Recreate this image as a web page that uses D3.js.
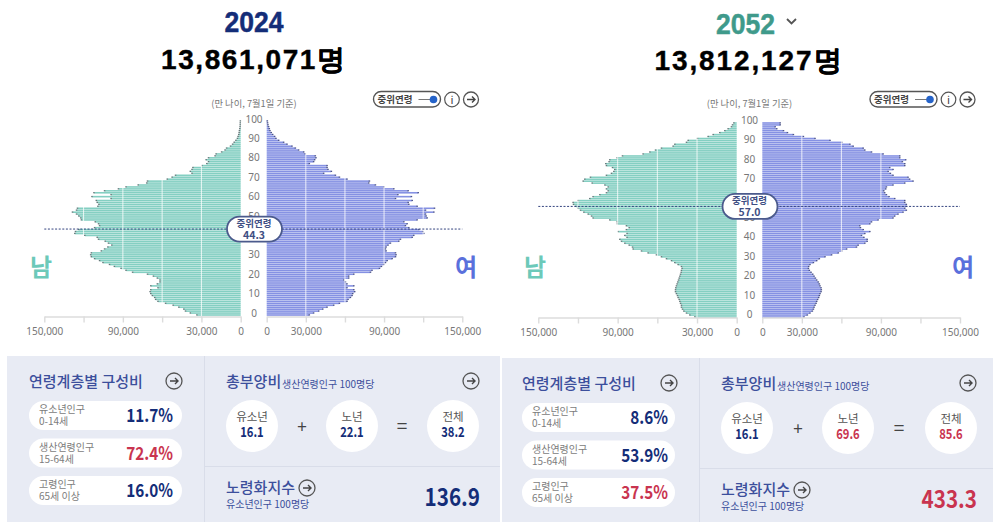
<!DOCTYPE html>
<html>
<head>
<meta charset="utf-8">
<script src="https://cdn.jsdelivr.net/npm/d3@7"></script>
<style>
html, body { margin: 0; padding: 0; background: #fff; }
svg { display: block; }
text { font-family: "Noto Sans CJK KR", "Noto Sans", sans-serif; }
</style>
</head>
<body>
<script>
// population by age 0..100
var male2024 = [33300,38300,42000,43300,47100,51400,57200,63000,64800,65500,67300,68500,69000,68500,63000,68500,63500,61500,61500,63500,66500,71000,82400,87400,91200,96300,100000,105000,107600,111400,113900,114400,113900,106300,103800,101300,98300,100800,103300,108400,109400,118900,126500,126000,123500,111400,107600,108400,110900,121500,122000,123500,125200,128300,125200,124500,108900,108100,109400,110100,98800,113400,98800,111900,103800,93200,87400,78100,71600,71000,55900,52200,49600,37000,38300,37000,36300,29500,25700,24400,26200,24400,19400,18600,14400,11800,10600,7600,6000,4800,3500,2300,1800,1300,1000,800,500,300,200,150,100];
var female2024 = [32500,35800,39700,42800,46100,51200,55600,61400,62200,64000,65300,65800,67300,66600,61400,66600,61400,60200,58900,62700,62700,66600,79400,80600,86300,87800,89600,90900,92200,96000,98600,99000,98600,91400,90900,91400,92900,94700,101100,102400,111400,112600,120300,119600,116500,108800,106200,107500,105000,115200,122900,122100,121600,128000,121600,128500,115200,108800,108300,111400,98600,110800,100400,116000,108300,97300,89600,83200,78100,78600,61400,55600,52500,43500,49400,46800,46100,46100,32500,35800,36600,37600,37100,29400,28200,24300,21800,19200,15400,12800,9000,6900,5900,4400,3300,2300,1800,1300,800,500,300];
var male2052 = [31500,35300,37800,39800,40800,41600,41600,42300,42800,43300,44100,44600,45400,46100,46100,45900,45400,44900,44400,43800,43300,42800,42300,41800,41600,41100,41600,44100,46600,49100,52900,56700,60500,66800,71800,78100,78600,81100,84400,86900,88200,82700,84400,82700,89500,83200,81100,83200,90000,90200,95800,108400,109600,112100,115400,117900,119700,121500,123200,123500,119700,110900,108400,103300,98300,97000,98300,97000,99500,109100,115900,114700,110400,98300,94500,92700,92000,93700,98300,98800,96300,95800,90200,86200,70600,65500,61200,56700,47900,46600,37800,36500,29500,21400,17600,12600,8800,6300,3800,3000,2000];
var female2052 = [31500,34000,36000,37800,38600,39100,39800,40600,41100,41800,42600,43100,43600,44400,44600,44400,43600,43100,42300,41100,40100,39100,38100,36800,35500,34800,35000,36000,38600,41100,43100,47400,52400,57500,60000,63800,71300,72600,77600,79400,79400,76900,75100,77600,81400,76400,74300,73800,81400,82700,87700,99000,100300,102800,106600,109100,107900,109100,109100,107900,107900,100300,96000,94000,92700,92000,93500,94000,99000,107900,114200,111600,110400,99000,97000,95300,99000,96500,107900,107900,106100,108600,104100,104100,91500,82700,77600,76400,68800,66300,60000,51200,39800,31000,23400,18900,15900,10800,9600,13400,13400];

var ageTicks = [0,10,20,30,40,50,60,70,80,90,100];
var popTicks = [0,30000,60000,90000,120000,150000];
var popLabels = [0,30000,90000,150000];

var years = ["2024", "2052"];
var totals = ["13,861,071명", "13,812,127명"];
var medians = [44.3, 57.0];
var shareNames = ["유소년인구", "생산연령인구", "고령인구"];
var shareAges = ["0-14세", "15-64세", "65세 이상"];
var shares2024 = ["11.7%", "72.4%", "16.0%"];
var shares2052 = ["8.6%", "53.9%", "37.5%"];
var depNames = ["유소년", "노년", "전체"];
var dep2024 = ["16.1", "22.1", "38.2"];
var dep2052 = ["16.1", "69.6", "85.6"];
var aging = ["136.9", "433.3"];

var navy = "#142d78", red = "#c9344f", headBlue = "#3c4f9c", gray = "#7c7c7c";
var W = 993, H = 522;

var svg = d3.select("body").append("svg").attr("width", W).attr("height", H);

// the original uses a condensed face, squeeze the text to k of its width
function condense(sel, k) {
    sel.each(function () {
        d3.select(this)
            .attr("textLength", this.getComputedTextLength() * k)
            .attr("lengthAdjust", "spacingAndGlyphs");
    });
    return sel;
}

function arrowIcon(g, cx, cy, r) {
    var a = g.append("g").attr("transform", "translate(" + cx + "," + cy + ")");
    a.append("circle").attr("r", r).attr("fill", "none").attr("stroke", "#555").attr("stroke-width", 1.3);
    a.append("path").attr("d", "M-4,0H4M1,-3L4,0L1,3").attr("fill", "none").attr("stroke", "#444").attr("stroke-width", 1.4);
}

function drawPyramid(c) {
    var g = svg.append("g");
    var xm = d3.scaleLinear().domain([0, 150000]).range([c.male0, c.male150]);
    var xf = d3.scaleLinear().domain([0, 150000]).range([c.female0, c.female150]);
    var y = d3.scaleLinear().domain([0, 100]).range([c.y0, c.y100]);
    var ages = d3.range(101);

    // bars
    g.selectAll(".m").data(ages).join("rect")
        .attr("x", function (d) { return xm(c.male[d]); })
        .attr("y", function (d) { return y(d) - 0.8; })
        .attr("width", function (d) { return xm(0) - xm(c.male[d]); })
        .attr("height", 1.6)
        .attr("fill", "#84cfc2");
    g.selectAll(".f").data(ages).join("rect")
        .attr("x", xf(0))
        .attr("y", function (d) { return y(d) - 0.8; })
        .attr("width", function (d) { return xf(c.female[d]) - xf(0); })
        .attr("height", 1.6)
        .attr("fill", "#8591e3");

    // dark tips of the bars
    g.selectAll(".mt").data(ages).join("rect")
        .attr("x", function (d) { return xm(c.male[d]) - 1; })
        .attr("y", function (d) { return y(d) - 0.75; })
        .attr("width", 1.5).attr("height", 1.3)
        .attr("fill", "#66787a");
    g.selectAll(".ft").data(ages).join("rect")
        .attr("x", function (d) { return xf(c.female[d]) - 0.5; })
        .attr("y", function (d) { return y(d) - 0.75; })
        .attr("width", 1.5).attr("height", 1.3)
        .attr("fill", "#4c5488");

    // white gridlines over the bars
    [xm, xf].forEach(function (sc) {
        g.selectAll(null).data(popTicks.slice(1)).join("line")
            .attr("x1", sc).attr("x2", sc)
            .attr("y1", y(100)).attr("y2", y(0) + 1)
            .attr("stroke", "#fff").attr("stroke-opacity", 0.8).attr("stroke-width", 1);
    });

    // x axes
    [xm, xf].forEach(function (sc) {
        var ax = g.append("g")
            .attr("transform", "translate(0," + c.axisY + ")")
            .call(d3.axisBottom(sc).tickValues(popTicks).tickSize(6).tickSizeOuter(0)
                .tickFormat(function (d) { return popLabels.indexOf(d) >= 0 ? d3.format(",")(d) : ""; }));
        ax.selectAll("path,line").attr("stroke", "#dcdcdc").attr("stroke-width", 1.4);
        ax.selectAll("text").attr("fill", "#777").attr("font-size", 10).attr("dy", "0.95em")
            .style("font-family", "'Noto Sans', sans-serif");
    });

    // age labels in the gutter
    var ay = g.append("g")
        .attr("transform", "translate(" + c.ageX + "," + c.ageShift + ")")
        .call(d3.axisLeft(y).tickValues(ageTicks).tickSize(0));
    ay.select("path").remove();
    ay.selectAll("text").attr("x", 0).attr("text-anchor", "middle").attr("fill", "#777").attr("font-size", 10)
        .style("font-family", "'Noto Sans', sans-serif");

    // median line and badge
    var my = y(c.median);
    g.append("line").attr("x1", xm(150000)).attr("x2", xf(150000)).attr("y1", my).attr("y2", my)
        .attr("stroke", "#33437f").attr("stroke-width", 1).attr("stroke-dasharray", "2,1.6");
    g.append("rect").attr("x", c.ageX - 27).attr("y", my - 12.5).attr("width", 55).attr("height", 25).attr("rx", 12.5)
        .attr("fill", "#fff").attr("stroke", "#4b5a8c").attr("stroke-width", 1.8);
    g.append("text").attr("x", c.ageX).attr("y", my - 2).attr("text-anchor", "middle")
        .attr("font-size", 9.5).attr("font-weight", 700).attr("fill", "#3f4f84").text("중위연령");
    g.append("text").attr("x", c.ageX).attr("y", my + 10).attr("text-anchor", "middle")
        .attr("font-size", 10.5).attr("font-weight", 700).attr("fill", "#3f4f84").text(c.median.toFixed(1));

    // sex labels
    g.append("text").attr("x", c.manX).attr("y", 276).attr("text-anchor", "middle")
        .attr("font-size", 24).attr("font-weight", 700).attr("fill", "#6cc9b9").text("남");
    g.append("text").attr("x", c.womanX).attr("y", 276).attr("text-anchor", "middle")
        .attr("font-size", 24).attr("font-weight", 700).attr("fill", "#5a70dc").text("여");

    // headline
    g.append("text").attr("x", c.titleX).attr("y", c.titleY).attr("text-anchor", "middle")
        .attr("font-size", 30).attr("font-weight", 700).attr("fill", c.titleColor)
        .attr("stroke", c.titleColor).attr("stroke-width", 0.5)
        .attr("textLength", 59).attr("lengthAdjust", "spacingAndGlyphs")
        .style("font-family", "'Liberation Sans', sans-serif").text(c.year);
    g.append("text").attr("x", c.totalX).attr("y", c.totalY).attr("text-anchor", "middle")
        .attr("font-size", 29).attr("font-weight", 700).attr("fill", "#000")
        .attr("stroke", "#000").attr("stroke-width", 0.4)
        .attr("textLength", c.totalW).attr("lengthAdjust", "spacing")
        .style("font-family", "'Liberation Sans', sans-serif").text(c.total)
        .call(function (s) { s.attr("font-size", 28); });
    g.append("text").attr("x", c.ageX).attr("y", 106.5).attr("text-anchor", "middle")
        .attr("font-size", 9.3).attr("fill", "#777").text("(만 나이, 7월1일 기준)");

    // toggle and icons
    var t = g.append("g").attr("transform", "translate(" + c.toggleX + ",0)");
    t.append("rect").attr("x", 0).attr("y", 91.5).attr("width", 67).attr("height", 15.5).attr("rx", 7.7)
        .attr("fill", "#fff").attr("stroke", "#555").attr("stroke-width", 1.4);
    t.append("text").attr("x", 4).attr("y", 103).attr("font-size", 9.5).attr("font-weight", 700).attr("fill", "#444").text("중위연령");
    t.append("line").attr("x1", 45).attr("x2", 60).attr("y1", 99.5).attr("y2", 99.5).attr("stroke", "#777").attr("stroke-width", 1);
    t.append("circle").attr("cx", 60).attr("cy", 99.5).attr("r", 3.8).attr("fill", "#2563c9");
    t.append("circle").attr("cx", 78.5).attr("cy", 99.5).attr("r", 7.3).attr("fill", "none").attr("stroke", "#555").attr("stroke-width", 1.2);
    t.append("text").attr("x", 78.5).attr("y", 103.5).attr("text-anchor", "middle").attr("font-size", 11).attr("fill", "#444").text("i");
    arrowIcon(t, 97.5, 99.5, 7.5);
}

function drawInfo(c) {
    var g = svg.append("g").attr("transform", "translate(" + c.dx + "," + c.dy + ")");
    g.append("rect").attr("x", 7).attr("y", 356).attr("width", c.bgW).attr("height", 170).attr("fill", "#e8ebf4");
    g.append("line").attr("x1", 204.5).attr("x2", 204.5).attr("y1", 356).attr("y2", 522).attr("stroke", "#d9dde9");
    g.append("line").attr("x1", 204.5).attr("x2", 7 + c.bgW).attr("y1", 466.5).attr("y2", 466.5).attr("stroke", "#d9dde9");

    g.append("text").attr("x", c.headX).attr("y", 387).attr("font-size", 15).attr("font-weight", 500).attr("fill", headBlue).text("연령계층별 구성비");
    arrowIcon(g, 174, 381, 8);

    var rows = g.selectAll(".row").data(shareNames).join("g")
        .attr("transform", function (d, i) { return "translate(0," + (401 + i * 37.5) + ")"; });
    rows.append("rect").attr("x", c.pillX).attr("width", 153).attr("height", 29).attr("rx", 14.5).attr("fill", "#fff");
    rows.append("text").attr("x", c.pillX + 10).attr("y", 12).attr("font-size", 10).attr("fill", gray).text(function (d) { return d; });
    rows.append("text").attr("x", c.pillX + 10).attr("y", 24).attr("font-size", 10).attr("fill", gray)
        .text(function (d, i) { return shareAges[i]; });
    rows.append("text").attr("x", 173).attr("y", 21).attr("text-anchor", "end").attr("font-size", 18).attr("font-weight", 700)
        .attr("fill", function (d, i) { return c.shareColors[i]; })
        .text(function (d, i) { return c.shares[i]; })
        .call(condense, 0.85);

    g.append("text").attr("x", 226).attr("y", 387).attr("font-size", 15).attr("font-weight", 500).attr("fill", headBlue).text("총부양비");
    g.append("text").attr("x", 282).attr("y", 388).attr("font-size", 10).attr("fill", headBlue).text("생산연령인구 100명당");
    arrowIcon(g, c.arrowX, 381, 8);

    var circles = g.selectAll(".dep").data(depNames).join("g")
        .attr("transform", function (d, i) { return "translate(" + c.depX[i] + ",426)"; });
    circles.append("circle").attr("r", 26).attr("fill", "#fff");
    circles.append("text").attr("y", -5).attr("text-anchor", "middle").attr("font-size", 11.5).attr("fill", "#555").text(function (d) { return d; });
    circles.append("text").attr("y", 11).attr("text-anchor", "middle").attr("font-size", 14).attr("font-weight", 700)
        .attr("fill", function (d, i) { return c.depColors[i]; })
        .text(function (d, i) { return c.deps[i]; })
        .call(condense, 0.8);
    g.append("text").attr("x", c.opX[0]).attr("y", 433).attr("text-anchor", "middle").attr("font-size", 17).attr("fill", "#444").text("+");
    g.append("text").attr("x", c.opX[1]).attr("y", 433).attr("text-anchor", "middle").attr("font-size", 19).attr("fill", "#444").text("=");

    g.append("text").attr("x", 226).attr("y", 493).attr("font-size", 15).attr("font-weight", 500).attr("fill", headBlue).text("노령화지수");
    arrowIcon(g, 307, 488, 8);
    g.append("text").attr("x", 226).attr("y", 508).attr("font-size", 10).attr("fill", headBlue).text("유소년인구 100명당");
    g.append("text").attr("x", c.agingX).attr("y", 506).attr("text-anchor", "end").attr("font-size", 24).attr("font-weight", 700)
        .attr("fill", c.agingColor).text(c.aging)
        .call(condense, 0.86);
}

drawPyramid({
    male: male2024, female: female2024, median: medians[0], year: years[0], total: totals[0], totalW: 184,
    male0: 240.7, male150: 44.3, female0: 266.7, female150: 462.3,
    y0: 315, y100: 121, axisY: 316.5, ageX: 254, ageShift: -2.2,
    manX: 41, womanX: 466, titleX: 254, titleY: 32, titleColor: navy, totalX: 253, totalY: 69, toggleX: 373.5
});
drawPyramid({
    male: male2052, female: female2052, median: medians[1], year: years[1], total: totals[1], totalW: 187,
    male0: 736.7, male150: 538.3, female0: 762.3, female150: 960,
    y0: 317, y100: 123, axisY: 317.5, ageX: 749.5, ageShift: -2.7,
    manX: 535, womanX: 963, titleX: 745.5, titleY: 34, titleColor: "#3f9a8b", totalX: 748, totalY: 70, toggleX: 870
});
svg.append("path").attr("d", "M787,19L791.5,23.5L796,19").attr("fill", "none").attr("stroke", "#555").attr("stroke-width", 1.8);

drawInfo({
    dx: 0, dy: 0, bgW: 493, headX: 29, pillX: 29, arrowX: 471,
    shares: shares2024, shareColors: [navy, red, navy],
    deps: dep2024, depColors: [navy, navy, navy],
    depX: [252, 352, 453], opX: [302, 402],
    aging: aging[0], agingColor: navy, agingX: 480
});
drawInfo({
    dx: 495, dy: 2, bgW: 493, headX: 27, pillX: 27, arrowX: 473,
    shares: shares2052, shareColors: [navy, navy, red],
    deps: dep2052, depColors: [navy, red, red],
    depX: [252, 353, 456], opX: [303, 404],
    aging: aging[1], agingColor: red, agingX: 482
});
</script>
</body>
</html>
